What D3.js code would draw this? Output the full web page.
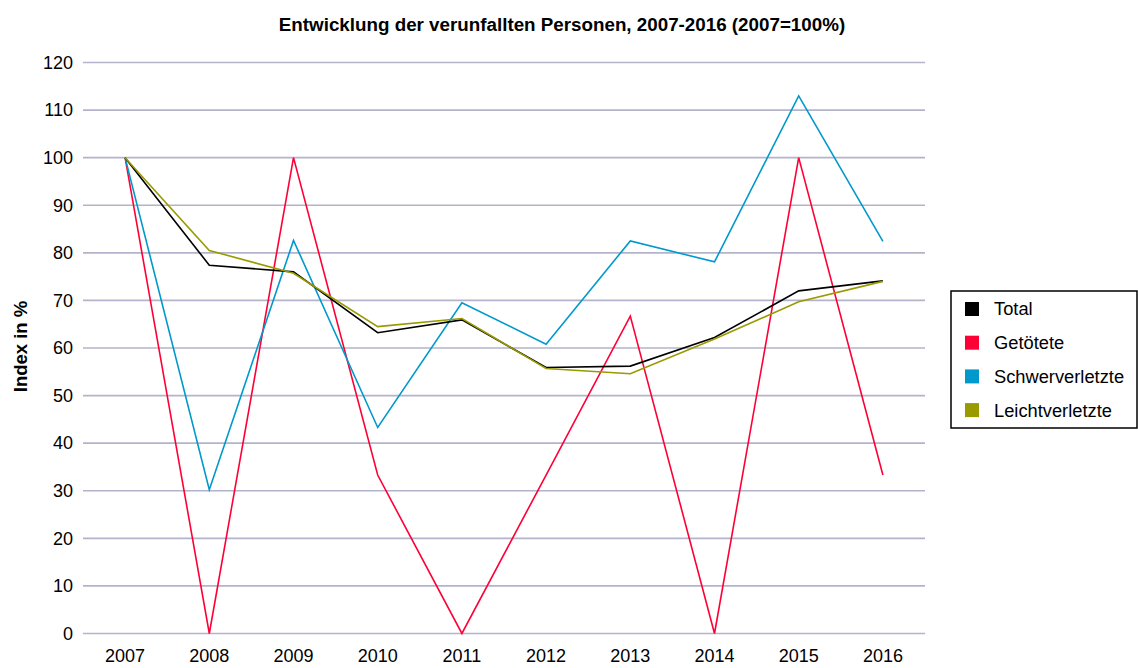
<!DOCTYPE html>
<html><head><meta charset="utf-8">
<script src="https://cdn.jsdelivr.net/npm/d3@7"></script>
<style>body{margin:0;background:#fff;}svg{display:block;font-family:"Liberation Sans",Arial,sans-serif;}</style>
</head><body><svg id="c" width="1138" height="668"></svg>
<script>
const years = ["2007","2008","2009","2010","2011","2012","2013","2014","2015","2016"];
const seriesNames = ["Total","Getötete","Schwerverletzte","Leichtverletzte"];
const total = [100,77.4,76.0,63.2,65.9,55.9,56.2,62.2,72.0,74.1];
const getoetete = [100,0,100,33.3,0,33.3,66.7,0,100,33.3];
const schwer = [100,30.2,82.6,43.3,69.5,60.8,82.5,78.1,113.0,82.4];
const leicht = [100,80.5,75.7,64.5,66.2,55.7,54.6,61.9,69.7,74.0];
const yTicks = [0,10,20,30,40,50,60,70,80,90,100,110,120];
const colors = ["#000000","#ff0036","#0099cc","#999900"];

const seriesValues = [total, getoetete, schwer, leicht];
const svg = d3.select("#c");
const pLeft = 83, pRight = 925, pTop = 62.5, pBottom = 633.5;
const x = d3.scaleBand().domain(years).range([pLeft, pRight]);
const y = d3.scaleLinear().domain([0,120]).range([pBottom, pTop]);

svg.append("text").attr("x",562).attr("y",30.5).attr("text-anchor","middle")
  .attr("font-weight","bold").attr("font-size","18.8px")
  .text("Entwicklung der verunfallten Personen, 2007-2016 (2007=100%)");

svg.append("g").selectAll("line").data(yTicks).join("line")
  .attr("x1",pLeft).attr("x2",pRight).attr("y1",d=>y(d)).attr("y2",d=>y(d))
  .attr("stroke","#b3b3cc").attr("stroke-width",1.6);

const yAxis = d3.axisLeft(y).tickValues(yTicks).tickSize(0).tickPadding(10);
const ga = svg.append("g").attr("transform",`translate(${pLeft},0)`).call(yAxis);
ga.select(".domain").remove();
ga.selectAll("text").attr("font-size","18px").attr("fill","#000").attr("font-family","Liberation Sans, Arial, sans-serif");

const xAxis = d3.axisBottom(x).tickSize(0).tickPadding(16);
const gx = svg.append("g").attr("transform",`translate(0,${pBottom})`).call(xAxis);
gx.select(".domain").remove();
gx.selectAll("text").attr("font-size","18px").attr("fill","#000").attr("font-family","Liberation Sans, Arial, sans-serif");

svg.append("text").attr("transform","translate(26.5,346.5) rotate(-90)")
  .attr("text-anchor","middle").attr("font-weight","bold").attr("font-size","18.5px")
  .text("Index in %");

const line = d3.line().x((d,i)=>x(years[i])+x.bandwidth()/2).y(d=>y(d));
const order = [1,2,0,3];
order.forEach(k=>{
  svg.append("path").datum(seriesValues[k]).attr("d",line)
    .attr("fill","none").attr("stroke",colors[k]).attr("stroke-width",1.6)
    .attr("stroke-linejoin","miter");
});

const lg = svg.append("g");
lg.append("rect").attr("x",951).attr("y",291).attr("width",186).attr("height",137)
  .attr("fill","#fff").attr("stroke","#000").attr("stroke-width",1.5);
seriesNames.forEach((n,i)=>{
  const cy = 309 + i*33.7;
  lg.append("rect").attr("x",965).attr("y",cy-7).attr("width",14).attr("height",14).attr("fill",colors[i]);
  lg.append("text").attr("x",994).attr("y",cy).attr("dy","0.35em").attr("font-size","18.3px").text(n);
});
</script></body></html>
